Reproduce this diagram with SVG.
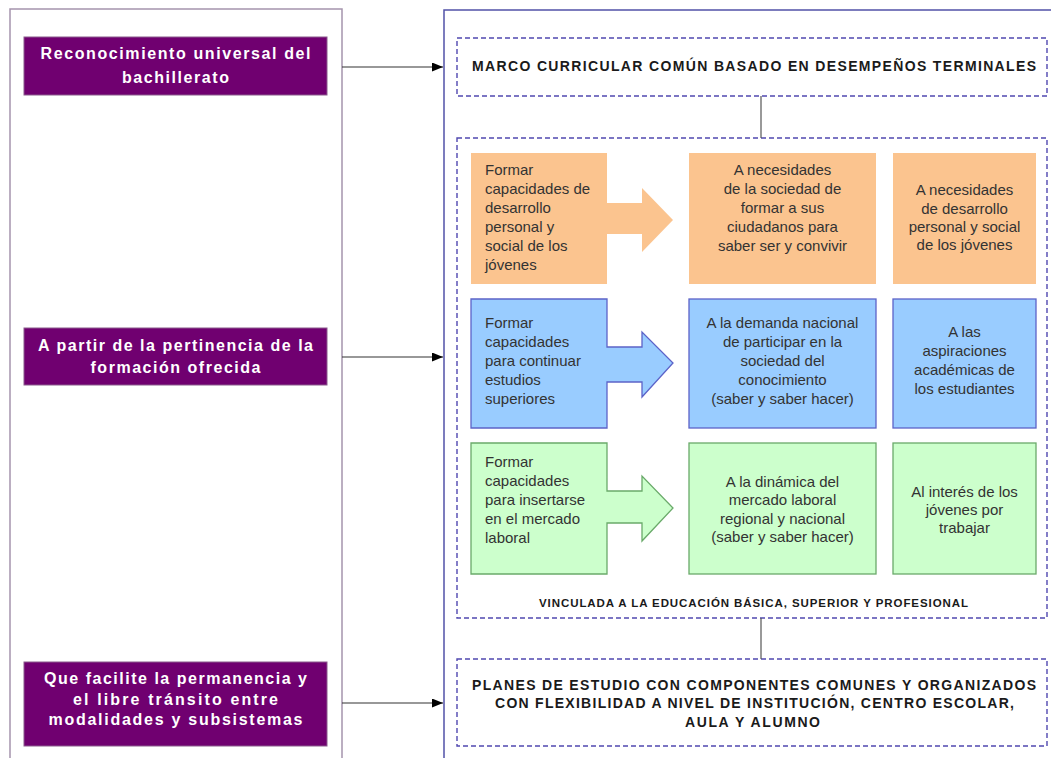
<svg xmlns="http://www.w3.org/2000/svg" width="1051" height="758" viewBox="0 0 1051 758">
<defs>
<style>
.panelL{fill:none;stroke:#a594ad;stroke-width:1.5}
.panelR{fill:none;stroke:#5252a8;stroke-width:1.5}
.dash{fill:none;stroke:#5048b0;stroke-width:1.4;stroke-dasharray:5,3}
.purple{fill:#700070;stroke:#8a5a8c;stroke-width:1}
.ptxt{font-family:"Liberation Sans",Arial,sans-serif;font-weight:bold;font-size:16px;fill:#ffffff;text-anchor:middle}
.btxt{font-family:"Liberation Sans",Arial,sans-serif;font-weight:bold;fill:#1a1a1a}
.t{font-family:"Liberation Sans",Arial,sans-serif;font-size:15px;fill:#333333}
.c{text-anchor:middle}
.org{fill:#fbc48f;stroke:none}
.blu{fill:#99ccff;stroke:#5c63c8;stroke-width:1.3}
.grn{fill:#ccffcc;stroke:#6aaa6a;stroke-width:1.3}
.conn{fill:none;stroke:#333333;stroke-width:1.2}
.vline{fill:none;stroke:#555555;stroke-width:1.2}
</style>
<marker id="ah" markerWidth="11" markerHeight="9" refX="11" refY="4.5" orient="auto" markerUnits="userSpaceOnUse">
<path d="M0,0 L11,4.5 L0,9 Z" fill="#000000"/>
</marker>
</defs>

<g id="panels">
<rect class="panelL" x="10" y="9" width="332" height="800"/>
<rect class="panelR" x="444" y="10" width="700" height="800"/>
</g>

<g id="node-reconocimiento">
<rect class="purple" x="24" y="37" width="303" height="58"/>
<text class="ptxt" x="175.5" y="59" textLength="270" lengthAdjust="spacing">Reconocimiento universal del</text>
<text class="ptxt" x="175.5" y="83" textLength="107" lengthAdjust="spacing">bachillerato</text>
</g>

<g id="node-pertinencia">
<rect class="purple" x="24" y="328" width="303" height="57"/>
<text class="ptxt" x="175.5" y="351" textLength="275" lengthAdjust="spacing">A partir de la pertinencia de la</text>
<text class="ptxt" x="175.5" y="373" textLength="170" lengthAdjust="spacing">formación ofrecida</text>
</g>

<g id="node-permanencia">
<rect class="purple" x="24" y="662" width="303" height="84"/>
<text class="ptxt" x="175.5" y="684" textLength="263" lengthAdjust="spacing">Que facilite la permanencia y</text>
<text class="ptxt" x="175.5" y="705" textLength="205" lengthAdjust="spacing">el libre tránsito entre</text>
<text class="ptxt" x="175.5" y="725" textLength="254" lengthAdjust="spacing">modalidades y subsistemas</text>
</g>

<g id="node-marco">
<rect class="dash" x="457" y="38" width="590" height="58"/>
<text class="btxt" x="472" y="71" font-size="14" textLength="564" lengthAdjust="spacing">MARCO CURRICULAR COMÚN BASADO EN DESEMPEÑOS TERMINALES</text>
</g>

<g id="node-vinculada">
<rect class="dash" x="457" y="138" width="590" height="480"/>
<text class="btxt" x="539" y="607" font-size="11.5" textLength="429" lengthAdjust="spacing">VINCULADA A LA EDUCACIÓN BÁSICA, SUPERIOR Y PROFESIONAL</text>
</g>

<g id="node-planes">
<rect class="dash" x="457" y="659" width="590" height="87"/>
<text class="btxt c" x="754" y="690" font-size="14" text-anchor="middle" textLength="564" lengthAdjust="spacing">PLANES DE ESTUDIO CON COMPONENTES COMUNES Y ORGANIZADOS</text>
<text class="btxt c" x="754.5" y="708" font-size="14" text-anchor="middle" textLength="519" lengthAdjust="spacing">CON FLEXIBILIDAD A NIVEL DE INSTITUCIÓN, CENTRO ESCOLAR,</text>
<text class="btxt c" x="752.5" y="727" font-size="14" text-anchor="middle" textLength="135" lengthAdjust="spacing">AULA Y ALUMNO</text>
</g>

<g id="row-orange">
<g id="node-o1">
<rect class="org" x="471" y="153" width="136" height="131"/>
<polygon class="org" points="606,203 642,203 642,188 673,220 642,252 642,234 606,234"/>
<text class="t" x="485" y="175">Formar</text>
<text class="t" x="485" y="194">capacidades de</text>
<text class="t" x="485" y="213">desarrollo</text>
<text class="t" x="485" y="232">personal y</text>
<text class="t" x="485" y="251">social de los</text>
<text class="t" x="485" y="270">jóvenes</text>
</g>
<g id="node-o2">
<rect class="org" x="689" y="153" width="187" height="131"/>
<text class="t c" x="782.5" y="175">A necesidades</text>
<text class="t c" x="782.5" y="194">de la sociedad de</text>
<text class="t c" x="782.5" y="213">formar a sus</text>
<text class="t c" x="782.5" y="232">ciudadanos para</text>
<text class="t c" x="782.5" y="251">saber ser y convivir</text>
</g>
<g id="node-o3">
<rect class="org" x="893" y="153" width="143" height="131"/>
<text class="t c" x="964.5" y="195">A necesidades</text>
<text class="t c" x="964.5" y="214">de desarrollo</text>
<text class="t c" x="964.5" y="232">personal y social</text>
<text class="t c" x="964.5" y="250">de los jóvenes</text>
</g>
</g>

<g id="row-blue">
<g id="node-b1">
<path class="blu" d="M607,347 L642,347 L642,332 L673,363 L642,397 L642,382 L607,382 L607,428 L471,428 L471,299 L607,299 Z"/>
<text class="t" x="485" y="328">Formar</text>
<text class="t" x="485" y="347">capacidades</text>
<text class="t" x="485" y="366">para continuar</text>
<text class="t" x="485" y="385">estudios</text>
<text class="t" x="485" y="404">superiores</text>
</g>
<g id="node-b2">
<rect class="blu" x="689" y="299" width="187" height="129"/>
<text class="t c" x="782.5" y="328">A la demanda nacional</text>
<text class="t c" x="782.5" y="347">de participar en la</text>
<text class="t c" x="782.5" y="366">sociedad del</text>
<text class="t c" x="782.5" y="385">conocimiento</text>
<text class="t c" x="782.5" y="404">(saber y saber hacer)</text>
</g>
<g id="node-b3">
<rect class="blu" x="893" y="299" width="143" height="129"/>
<text class="t c" x="964.5" y="337">A las</text>
<text class="t c" x="964.5" y="356">aspiraciones</text>
<text class="t c" x="964.5" y="375">académicas de</text>
<text class="t c" x="964.5" y="394">los estudiantes</text>
</g>
</g>

<g id="row-green">
<g id="node-g1">
<path class="grn" d="M607,491 L642,491 L642,476 L673,508 L642,541 L642,523 L607,523 L607,574 L471,574 L471,443 L607,443 Z"/>
<text class="t" x="485" y="467">Formar</text>
<text class="t" x="485" y="486">capacidades</text>
<text class="t" x="485" y="505">para insertarse</text>
<text class="t" x="485" y="524">en el mercado</text>
<text class="t" x="485" y="543">laboral</text>
</g>
<g id="node-g2">
<rect class="grn" x="689" y="443" width="187" height="131"/>
<text class="t c" x="782.5" y="487">A la dinámica del</text>
<text class="t c" x="782.5" y="505">mercado laboral</text>
<text class="t c" x="782.5" y="524">regional y nacional</text>
<text class="t c" x="782.5" y="542">(saber y saber hacer)</text>
</g>
<g id="node-g3">
<rect class="grn" x="893" y="443" width="143" height="131"/>
<text class="t c" x="964.5" y="497">Al interés de los</text>
<text class="t c" x="964.5" y="515">jóvenes por</text>
<text class="t c" x="964.5" y="533">trabajar</text>
</g>
</g>

<g id="connectors">
<line class="conn" x1="342" y1="67" x2="443" y2="67" marker-end="url(#ah)"/>
<line class="conn" x1="342" y1="357" x2="443" y2="357" marker-end="url(#ah)"/>
<line class="conn" x1="342" y1="703" x2="443" y2="703" marker-end="url(#ah)"/>
<line class="vline" x1="761" y1="96" x2="761" y2="138"/>
<line class="vline" x1="761" y1="618" x2="761" y2="659"/>
</g>
</svg>
